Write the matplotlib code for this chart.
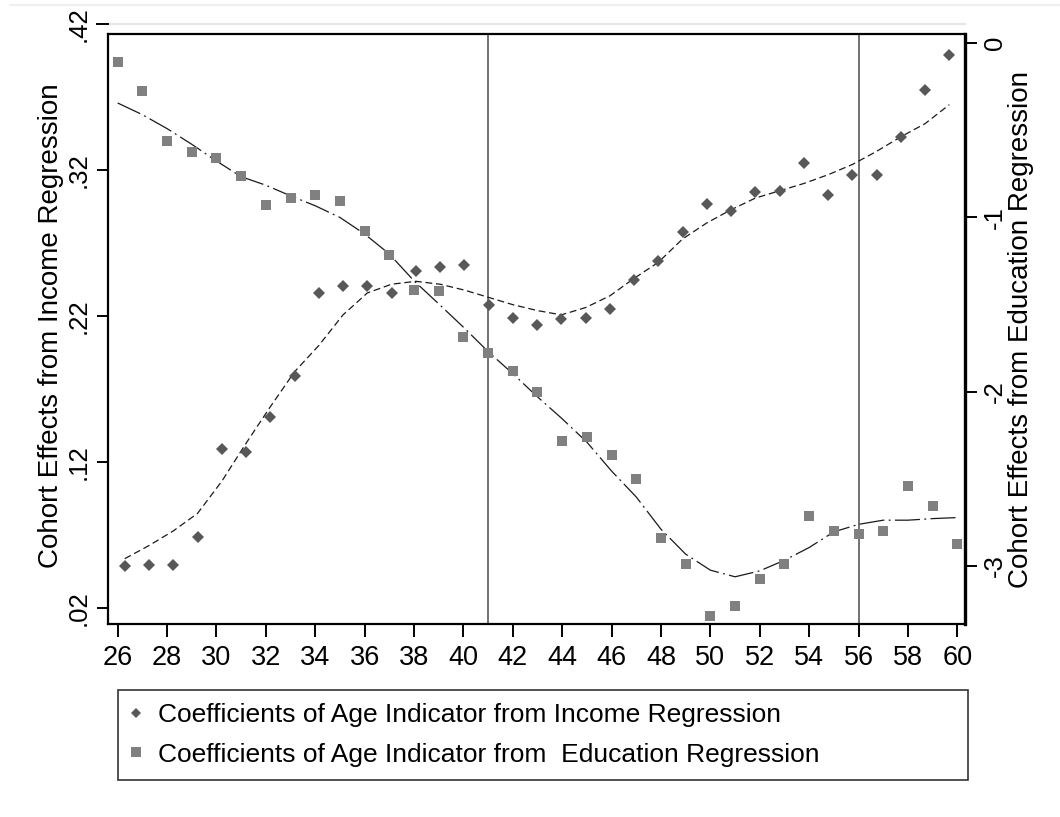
import matplotlib
matplotlib.use("Agg")
import matplotlib.pyplot as plt
from matplotlib.lines import Line2D
from matplotlib.transforms import blended_transform_factory

plt.rcParams["font.family"] = ["Liberation Sans", "DejaVu Sans"]

# data
ages = list(range(26, 61))
income_coef = [0.049, 0.050, 0.050, 0.069, 0.129, 0.127, 0.151, 0.179, 0.236, 0.241,
               0.241, 0.236, 0.251, 0.254, 0.255, 0.228, 0.219, 0.214, 0.218, 0.219,
               0.225, 0.245, 0.258, 0.278, 0.297, 0.292, 0.305, 0.306, 0.325, 0.303,
               0.317, 0.317, 0.343, 0.375, 0.399]
income_fit = [0.054, 0.063, 0.073, 0.085, 0.107, 0.133, 0.158, 0.182, 0.200, 0.221,
              0.236, 0.242, 0.244, 0.242, 0.238, 0.233, 0.228, 0.224, 0.221, 0.226,
              0.234, 0.246, 0.257, 0.273, 0.284, 0.293, 0.301, 0.306, 0.311, 0.317,
              0.324, 0.333, 0.343, 0.352, 0.365]
edu_coef = [-0.109, -0.276, -0.560, -0.625, -0.661, -0.762, -0.931, -0.888, -0.874, -0.907,
            -1.076, -1.213, -1.415, -1.425, -1.685, -1.779, -1.880, -2.004, -2.286, -2.263,
            -2.365, -2.500, -2.838, -2.987, -3.288, -3.231, -3.076, -2.987, -2.716, -2.802,
            -2.815, -2.802, -2.544, -2.658, -2.872]
edu_fit = [-0.343, -0.410, -0.490, -0.580, -0.676, -0.766, -0.815, -0.876, -0.933, -1.000,
           -1.095, -1.210, -1.364, -1.496, -1.630, -1.770, -1.897, -2.030, -2.156, -2.290,
           -2.456, -2.605, -2.790, -2.933, -3.025, -3.063, -3.029, -2.968, -2.895, -2.805,
           -2.762, -2.738, -2.738, -2.729, -2.723]

x_ticks = list(range(26, 61, 2))
inc_ticks = [0.02, 0.12, 0.22, 0.32]
inc_tick_labels = [".02", ".12", ".22", ".32"]
edu_ticks = [0, -1, -2, -3]
edu_tick_labels = ["0", "-1", "-2", "-3"]
cut_ages = [41, 56]
inc_axis_label = "Cohort Effects from Income Regression"
edu_axis_label = "Cohort Effects from Education Regression"
legend_labels = ["Coefficients of Age Indicator from Income Regression",
                 "Coefficients of Age Indicator from  Education Regression"]

inc_color = "#585858"
edu_color = "#808080"
line_color = "#1a1a1a"

W, H = 1060, 817
fig = plt.figure(figsize=(W / 100, H / 100), dpi=100)
fig.patch.set_facecolor("white")
left, right, top, bottom = 108, 965, 34, 624
rect = [left / W, 1 - bottom / H, (right - left) / W, (bottom - top) / H]

# education axes: carries the x ticks, the frame and the right axis
ax = fig.add_axes(rect)
ax.set_xlim(25.61, 60.31)
ax.set_ylim(-3.334, 0.053)
ax.plot(ages, edu_fit, color=line_color, lw=0.9, dashes=(20, 3.5, 1.5, 3.5), zorder=2)
ax.plot(ages, edu_coef, ls="none", marker="s", ms=7.2, mew=0, color=edu_color, zorder=3)
for a in cut_ages:
    ax.axvline(a, color="#4a4a4a", lw=1.1, zorder=1)

ax.set_xticks(x_ticks)
ax.tick_params(axis="x", length=9, width=1.4, pad=6, labelsize=19.5)
ax.yaxis.tick_right()
ax.set_yticks(edu_ticks)
ax.set_yticklabels(edu_tick_labels)
ax.tick_params(axis="y", length=8.3, width=1.4, pad=4.5, labelsize=18.5, labelrotation=90)
for lab in ax.get_yticklabels():
    lab.set_va("center")
for side in ["top", "left", "bottom"]:
    ax.spines[side].set_linewidth(1.6)
ax.spines["right"].set_linewidth(2.4)
fig.text(1021 / W, 1 - 329 / H, edu_axis_label, rotation=90, ha="center", va="center",
         fontsize=20)

# income axes: same box, its own x scale (markers sit slightly off the ticks)
k = 0.982
ax_inc = fig.add_axes(rect)
ax_inc.patch.set_visible(False)
ax_inc.set_xlim(42 + (25.61 - 42) / k, 42 + (60.31 - 42) / k)
ax_inc.set_ylim(0.00926, 0.4134)
ax_inc.xaxis.set_visible(False)
for s in ax_inc.spines.values():
    s.set_visible(False)
ax_inc.plot(ages, income_fit, color=line_color, lw=0.9, dashes=(5.5, 3), zorder=2)
ax_inc.plot(ages, income_coef, ls="none", marker="D", ms=6.3, mew=0, color=inc_color, zorder=3)
ax_inc.set_yticks(inc_ticks)
ax_inc.set_yticklabels(inc_tick_labels)
ax_inc.tick_params(axis="y", length=8, width=1.4, pad=4.5, labelsize=18.5, labelrotation=90)
for lab in ax_inc.get_yticklabels():
    lab.set_va("center")
fig.text(51 / W, 1 - 326 / H, inc_axis_label, rotation=90, ha="center", va="center",
         fontsize=20)

# the .42 tick sits above the plot region
trans = blended_transform_factory(ax_inc.transAxes, ax_inc.transData)
ax_w = right - left
ax_inc.axhline(0.42, color="#e6e6e6", lw=1.5, clip_on=False, zorder=0)
ax_inc.plot([-11.1 / ax_w, 0], [0.42, 0.42], transform=trans, color="black", lw=1.4,
            clip_on=False)
ax_inc.text(-17.4 / ax_w, 0.42, ".42", transform=trans, rotation=90, ha="right",
            va="center", fontsize=18.5, clip_on=False)
fig.add_artist(Line2D([10 / W, 1], [1 - 5 / H, 1 - 5 / H], color="#efefef", lw=1.5))

# legend below the plot
handles = [Line2D([], [], ls="none", marker="D", ms=5.5, mew=0, color=inc_color),
           Line2D([], [], ls="none", marker="s", ms=6.5, mew=0, color=edu_color)]
leg = fig.legend(handles, legend_labels, loc="center left",
                 bbox_to_anchor=(118 / W, 1 - 781 / H, 850 / W, 92 / H), mode="expand",
                 ncol=1, frameon=True, fancybox=False, edgecolor="black", fontsize=19,
                 handlelength=0.35, handletextpad=0.66, borderpad=0.51, labelspacing=0.58,
                 borderaxespad=0)
leg.get_frame().set_linewidth(1.2)

fig.savefig("out.png", dpi=100, facecolor="white")
